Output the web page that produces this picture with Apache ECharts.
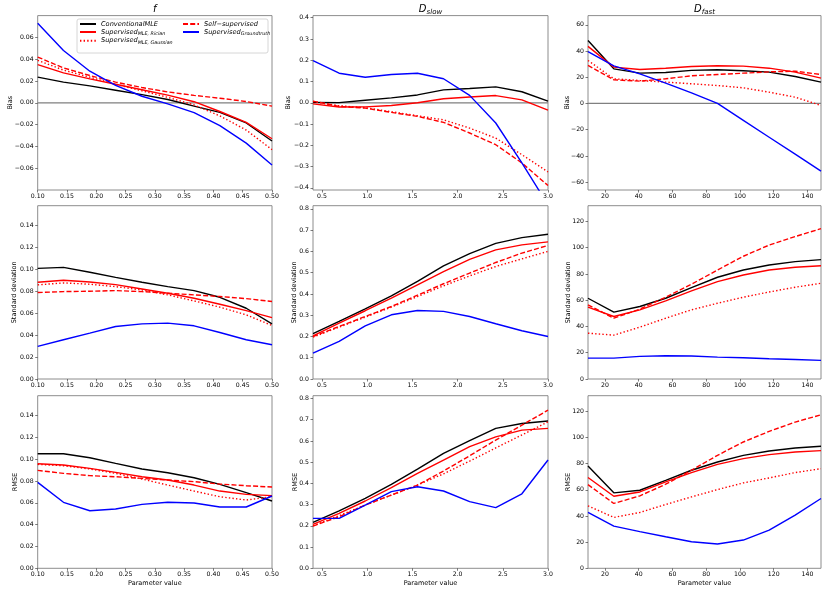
<!DOCTYPE html>
<html>
<head>
<meta charset="utf-8">
<script src="https://cdn.jsdelivr.net/npm/echarts@6/dist/echarts.min.js"></script>
<style>
html,body{margin:0;padding:0;background:#fff;}
#c{width:830px;height:593px;}
</style>
</head>
<body>
<div id="c"></div>
<script>
// ---------- x values (parameter values) ----------
const xF  = [0.1, 0.144, 0.189, 0.233, 0.278, 0.322, 0.367, 0.411, 0.456, 0.5];
const xDs = [0.4, 0.689, 0.978, 1.267, 1.556, 1.844, 2.133, 2.422, 2.711, 3.0];
const xDf = [10, 25.3, 40.7, 56.0, 71.3, 86.7, 102.0, 117.3, 132.7, 148];

// ---------- method names ----------
const methodNames = ['ConventionalMLE', 'Supervised MLE, Rician', 'Supervised MLE, Gaussian', 'Self-supervised', 'Supervised Groundtruth'];
const legendLabels = ['{m|ConventionalMLE}', '{m|Supervised}{s|MLE, Rician}', '{m|Supervised}{s|MLE, Gaussian}', '{m|Self\u2212supervised}', '{m|Supervised}{s|Groundtruth}'];
const colTitles = ['{i|f}', '{i|D}{s|slow}', '{i|D}{s|fast}'];
const rowLabels = ['Bias', 'Standard deviation', 'RMSE'];
const xAxisLabel = 'Parameter value';

// ---------- Bias ----------
const biasF_conv  = [0.0235, 0.019, 0.0155, 0.0115, 0.0075, 0.003, -0.003, -0.0088, -0.0185, -0.035];
const biasF_ric   = [0.035, 0.0275, 0.022, 0.017, 0.012, 0.007, 0.001, -0.008, -0.018, -0.033];
const biasF_gau   = [0.039, 0.030, 0.0235, 0.017, 0.011, 0.005, -0.002, -0.012, -0.025, -0.043];
const biasF_self  = [0.042, 0.032, 0.025, 0.019, 0.014, 0.010, 0.0068, 0.0042, 0.0012, -0.003];
const biasF_gt    = [0.073, 0.048, 0.029, 0.016, 0.006, -0.001, -0.009, -0.021, -0.037, -0.057];

const biasDs_conv = [0.002, 0.001, 0.012, 0.023, 0.037, 0.061, 0.067, 0.075, 0.052, 0.008];
const biasDs_ric  = [-0.005, -0.02, -0.019, -0.013, 0.0, 0.019, 0.027, 0.034, 0.014, -0.034];
const biasDs_gau  = [0.006, -0.014, -0.023, -0.042, -0.061, -0.08, -0.119, -0.166, -0.244, -0.325];
const biasDs_self = [0.008, -0.017, -0.025, -0.045, -0.064, -0.092, -0.142, -0.197, -0.283, -0.389];
const biasDs_gt   = [0.198, 0.139, 0.12, 0.133, 0.139, 0.113, 0.035, -0.095, -0.283, -0.48];

const biasDf_conv = [48.0, 26.4, 23.1, 23.6, 25.2, 25.7, 24.9, 23.9, 20.6, 16.3];
const biasDf_ric  = [43.5, 27.7, 25.9, 26.9, 28.2, 28.7, 28.5, 26.9, 23.9, 19.3];
const biasDf_gau  = [32.8, 18.8, 17.5, 16.3, 15.0, 13.7, 11.9, 8.6, 4.8, -1.5];
const biasDf_self = [29.0, 18.0, 17.0, 18.8, 21.1, 22.1, 23.1, 24.1, 24.6, 22.1];
const biasDf_gt   = [39.6, 28.7, 22.5, 15.5, 8.0, 0.0, -12.9, -25.8, -38.7, -51.6];

// ---------- Standard deviation ----------
const sdF_conv  = [0.1009, 0.1018, 0.0973, 0.0927, 0.0882, 0.0842, 0.0806, 0.0745, 0.0645, 0.0503];
const sdF_ric   = [0.0882, 0.090, 0.0885, 0.086, 0.0821, 0.0782, 0.0736, 0.0682, 0.0624, 0.056];
const sdF_gau   = [0.0858, 0.0876, 0.0864, 0.0842, 0.0812, 0.0767, 0.0712, 0.0655, 0.0585, 0.0488];
const sdF_self  = [0.0788, 0.0797, 0.080, 0.0806, 0.0797, 0.0782, 0.0767, 0.0752, 0.0733, 0.0706];
const sdF_gt    = [0.0297, 0.0358, 0.0418, 0.0479, 0.0503, 0.0509, 0.0485, 0.0424, 0.0358, 0.0312];

const sdDs_conv = [0.213, 0.271, 0.33, 0.391, 0.459, 0.532, 0.59, 0.638, 0.665, 0.681];
const sdDs_ric  = [0.203, 0.263, 0.321, 0.38, 0.443, 0.505, 0.563, 0.607, 0.631, 0.645];
const sdDs_gau  = [0.197, 0.244, 0.291, 0.338, 0.388, 0.438, 0.485, 0.529, 0.565, 0.60];
const sdDs_self = [0.20, 0.247, 0.294, 0.341, 0.394, 0.448, 0.498, 0.548, 0.592, 0.628];
const sdDs_gt   = [0.122, 0.177, 0.25, 0.302, 0.322, 0.318, 0.294, 0.26, 0.227, 0.20];

const sdDf_conv = [61.5, 50.9, 55.2, 61.5, 69.6, 77.5, 83.0, 86.8, 89.4, 90.9];
const sdDf_ric  = [54.7, 47.6, 52.7, 59.5, 67.1, 74.2, 79.2, 83.0, 85.1, 86.3];
const sdDf_gau  = [34.9, 33.4, 39.5, 46.3, 52.7, 57.7, 62.3, 66.3, 69.9, 72.9];
const sdDf_self = [56.5, 46.3, 53.2, 62.3, 72.2, 83.0, 93.5, 102.0, 108.5, 114.5];
const sdDf_gt   = [15.9, 15.9, 17.2, 17.7, 17.5, 16.7, 16.2, 15.4, 14.9, 14.2];

// ---------- RMSE ----------
const rmseF_conv  = [0.1049, 0.1049, 0.1012, 0.096, 0.0909, 0.0875, 0.0829, 0.0768, 0.0692, 0.0616];
const rmseF_ric   = [0.0957, 0.0945, 0.0915, 0.0878, 0.0838, 0.0808, 0.0762, 0.0707, 0.0677, 0.0665];
const rmseF_gau   = [0.0951, 0.0939, 0.0909, 0.0869, 0.0817, 0.0762, 0.0707, 0.0655, 0.0625, 0.0655];
const rmseF_self  = [0.0896, 0.0869, 0.0848, 0.0838, 0.0823, 0.0808, 0.0793, 0.0771, 0.0756, 0.0744];
const rmseF_gt    = [0.0787, 0.0604, 0.0527, 0.0543, 0.0585, 0.0604, 0.0598, 0.0561, 0.0561, 0.0662];

const rmseDs_conv = [0.216, 0.27, 0.329, 0.395, 0.467, 0.541, 0.601, 0.659, 0.682, 0.694];
const rmseDs_ric  = [0.207, 0.259, 0.317, 0.38, 0.447, 0.51, 0.573, 0.619, 0.651, 0.659];
const rmseDs_gau  = [0.20, 0.248, 0.298, 0.345, 0.392, 0.445, 0.505, 0.567, 0.628, 0.69];
const rmseDs_self = [0.199, 0.243, 0.298, 0.345, 0.392, 0.458, 0.53, 0.604, 0.674, 0.745];
const rmseDs_gt   = [0.235, 0.235, 0.298, 0.361, 0.384, 0.364, 0.314, 0.286, 0.351, 0.51];

const rmseDf_conv = [78.3, 57.7, 59.7, 67.3, 75.0, 81.3, 86.4, 89.7, 92.0, 93.3];
const rmseDf_ric  = [69.4, 55.1, 58.4, 66.1, 73.2, 79.5, 83.9, 86.9, 88.9, 90.0];
const rmseDf_gau  = [47.8, 38.9, 42.7, 48.8, 54.6, 60.2, 65.3, 69.1, 73.2, 76.2];
const rmseDf_self = [64.0, 49.6, 55.4, 64.3, 75.0, 86.4, 96.6, 104.7, 111.8, 117.4];
const rmseDf_gt   = [42.7, 32.3, 28.0, 24.1, 20.3, 18.6, 21.6, 29.2, 40.7, 53.4];

// ---------- tick labels ----------
const fTicks  = [0.10, 0.15, 0.20, 0.25, 0.30, 0.35, 0.40, 0.45, 0.50];
const dsTicks = [0.5, 1.0, 1.5, 2.0, 2.5, 3.0];
const dfTicks = [20, 40, 60, 80, 100, 120, 140];
const biasFTicks  = [-0.06, -0.04, -0.02, 0.00, 0.02, 0.04, 0.06];
const biasDsTicks = [-0.4, -0.3, -0.2, -0.1, 0.0, 0.1, 0.2, 0.3, 0.4];
const biasDfTicks = [-60, -40, -20, 0, 20, 40, 60];
const sdFTicks  = [0.00, 0.02, 0.04, 0.06, 0.08, 0.10, 0.12, 0.14];
const sdDsTicks = [0.0, 0.1, 0.2, 0.3, 0.4, 0.5, 0.6, 0.7, 0.8];
const sdDfTicks = [0, 20, 40, 60, 80, 100, 120];
const zeroLevel = [0];

// ---------- assemble panels from the arrays ----------
const xVals  = [xF, xDs, xDf];
const xTicks = [fTicks, dsTicks, dfTicks];
const xMin = [0.1, 0.4, 10];
const xMax = [0.5, 3.0, 148];
const xDec = [2, 1, 0];

const panelData = [
  [[biasF_conv, biasF_ric, biasF_gau, biasF_self, biasF_gt],
   [biasDs_conv, biasDs_ric, biasDs_gau, biasDs_self, biasDs_gt],
   [biasDf_conv, biasDf_ric, biasDf_gau, biasDf_self, biasDf_gt]],
  [[sdF_conv, sdF_ric, sdF_gau, sdF_self, sdF_gt],
   [sdDs_conv, sdDs_ric, sdDs_gau, sdDs_self, sdDs_gt],
   [sdDf_conv, sdDf_ric, sdDf_gau, sdDf_self, sdDf_gt]],
  [[rmseF_conv, rmseF_ric, rmseF_gau, rmseF_self, rmseF_gt],
   [rmseDs_conv, rmseDs_ric, rmseDs_gau, rmseDs_self, rmseDs_gt],
   [rmseDf_conv, rmseDf_ric, rmseDf_gau, rmseDf_self, rmseDf_gt]]
];
const yTicks = [[biasFTicks, biasDsTicks, biasDfTicks], [sdFTicks, sdDsTicks, sdDfTicks], [sdFTicks, sdDsTicks, sdDfTicks]];
const yMin = [[-0.08, -0.41, -66], [0, 0, 0], [0, 0, 0]];
const yMax = [[0.08, 0.41, 67], [0.158, 0.815, 132], [0.158, 0.813, 132]];
const yDec = [2, 1, 0];
const yNameGap = [[24, 21, 17.5], [19.5, 15, 16.5], [19, 14.5, 16.5]];

// layout
const FONT = 'DejaVu Sans';
const colLeft = [37.7, 313, 588];
const colWidth = [234.3, 235, 233];
const rowTop = [15.6, 205.7, 395.7];
const rowHeight = [174.4, 173.3, 172.6];

const lineStyles = [
  {color: '#000000', type: 'solid'},
  {color: '#ff0000', type: 'solid'},
  {color: '#ff0000', type: [1.4, 2.2]},
  {color: '#ff0000', type: [5, 2.2]},
  {color: '#0000ff', type: 'solid'}
];

function fmt(dec) {
  return function (v) {
    const s = Math.abs(v).toFixed(dec);
    return (v < 0 && Math.abs(v) > 1e-12 ? '\u2212' : '') + s;
  };
}

const grids = [], xAxes = [], yAxes = [], series = [];
for (let r = 0; r < 3; r++) {
  for (let c = 0; c < 3; c++) {
    const idx = r * 3 + c;
    grids.push({
      left: colLeft[c], top: rowTop[r], width: colWidth[c], height: rowHeight[r],
      show: true, borderColor: '#808080', borderWidth: 0.9, backgroundColor: 'transparent',
      containLabel: false, outerBoundsMode: 'none'
    });
    xAxes.push({
      type: 'value', gridIndex: idx, min: xMin[c], max: xMax[c],
      axisLine: {show: false, onZero: false},
      splitLine: {show: false},
      axisTick: {show: true, length: 2.5, lineStyle: {color: '#444', width: 0.7}, customValues: xTicks[c]},
      axisLabel: {customValues: xTicks[c], formatter: fmt(xDec[c]), fontSize: 6.2, color: '#000', margin: 3, fontFamily: FONT, hideOverlap: false},
      name: r === 2 ? xAxisLabel : '', nameLocation: 'middle', nameGap: 11.5,
      nameTextStyle: {fontSize: 6.5, color: '#000', fontFamily: FONT}
    });
    // bias panels get a grey horizontal reference line at zero, drawn as y-axis split line
    const yAx = {
      type: 'value', gridIndex: idx, min: yMin[r][c], max: yMax[r][c],
      axisLine: {show: false, onZero: false},
      splitLine: {show: false},
      axisTick: {show: true, length: 2.5, lineStyle: {color: '#444', width: 0.7}, customValues: yTicks[r][c]},
      axisLabel: {customValues: yTicks[r][c], formatter: fmt(yDec[c]), fontSize: 6.2, color: '#000', margin: 4, fontFamily: FONT, hideOverlap: false},
      name: rowLabels[r], nameLocation: 'middle', nameGap: yNameGap[r][c], nameMoveOverlap: false,
      nameTextStyle: {fontSize: 6.5, color: '#000', fontFamily: FONT}
    };
    yAxes.push(yAx);
    const ys = panelData[r][c];
    if (r === 0) {
      // zero reference line via markLine on an empty helper series
      series.push({
        type: 'line', name: 'zero', xAxisIndex: idx, yAxisIndex: idx,
        data: xVals[c].map(x => [x, zeroLevel[0]]),
        symbol: 'none', showSymbol: false, silent: true, z: 1,
        lineStyle: {color: '#808080', width: 1.2, type: 'solid'},
        itemStyle: {color: '#808080'},
        emphasis: {disabled: true}
      });
    }
    for (let m = 0; m < 5; m++) {
      series.push({
        type: 'line', name: methodNames[m], xAxisIndex: idx, yAxisIndex: idx,
        data: xVals[c].map((x, i) => [x, ys[m][i]]),
        symbol: 'none', showSymbol: false, silent: true, clip: true,
        lineStyle: {color: lineStyles[m].color, type: lineStyles[m].type, width: 1.4},
        itemStyle: {color: lineStyles[m].color},
        emphasis: {disabled: true},
        z: 2 + m * 0.01
      });
    }
  }
}

const legendRich = {
  m: {fontSize: 6.6, fontStyle: 'italic', fontFamily: FONT, color: '#000'},
  s: {fontSize: 4.8, fontStyle: 'italic', fontFamily: FONT, color: '#000', padding: [3.5, 0, 0, 0]}
};
function legendFmt(name) { return legendLabels[methodNames.indexOf(name)]; }
const legendCommon = {
  orient: 'vertical', top: 20.5, itemGap: 1, itemWidth: 16, itemHeight: 7,
  padding: 0, selectedMode: false, z: 10,
  itemStyle: {opacity: 0, borderWidth: 0},
  formatter: legendFmt,
  textStyle: {rich: legendRich, fontFamily: FONT, fontSize: 6.6, fontStyle: 'italic', color: '#000'}
};

const titleRich = {
  i: {fontSize: 10, fontStyle: 'italic', fontFamily: FONT, color: '#000', lineHeight: 12},
  s: {fontSize: 7, fontStyle: 'italic', fontFamily: FONT, color: '#000', padding: [5.5, 0, 0, 0]}
};
const titleGraphics = colTitles.map((t, c) => ({
  type: 'text', x: colLeft[c] + colWidth[c] / 2, y: 3.5, z: 20,
  style: {text: t, rich: titleRich, align: 'center', verticalAlign: 'top'}
}));

const option = {
  animation: false,
  backgroundColor: '#ffffff',
  textStyle: {fontFamily: FONT},
  grid: grids,
  xAxis: xAxes,
  yAxis: yAxes,
  legend: [
    Object.assign({}, legendCommon, {left: 79, data: methodNames.slice(0, 3)}),
    Object.assign({}, legendCommon, {left: 182, data: methodNames.slice(3, 5)})
  ],
  graphic: [
    {type: 'rect', z: 5, shape: {x: 77, y: 19, width: 191, height: 34, r: 2},
     style: {fill: 'rgba(255,255,255,0.85)', stroke: '#cccccc', lineWidth: 0.8}}
  ].concat(titleGraphics),
  series: series
};

const chart = echarts.init(document.getElementById('c'), null, {renderer: 'canvas', width: 830, height: 593});
chart.setOption(option);
</script>
</body>
</html>
